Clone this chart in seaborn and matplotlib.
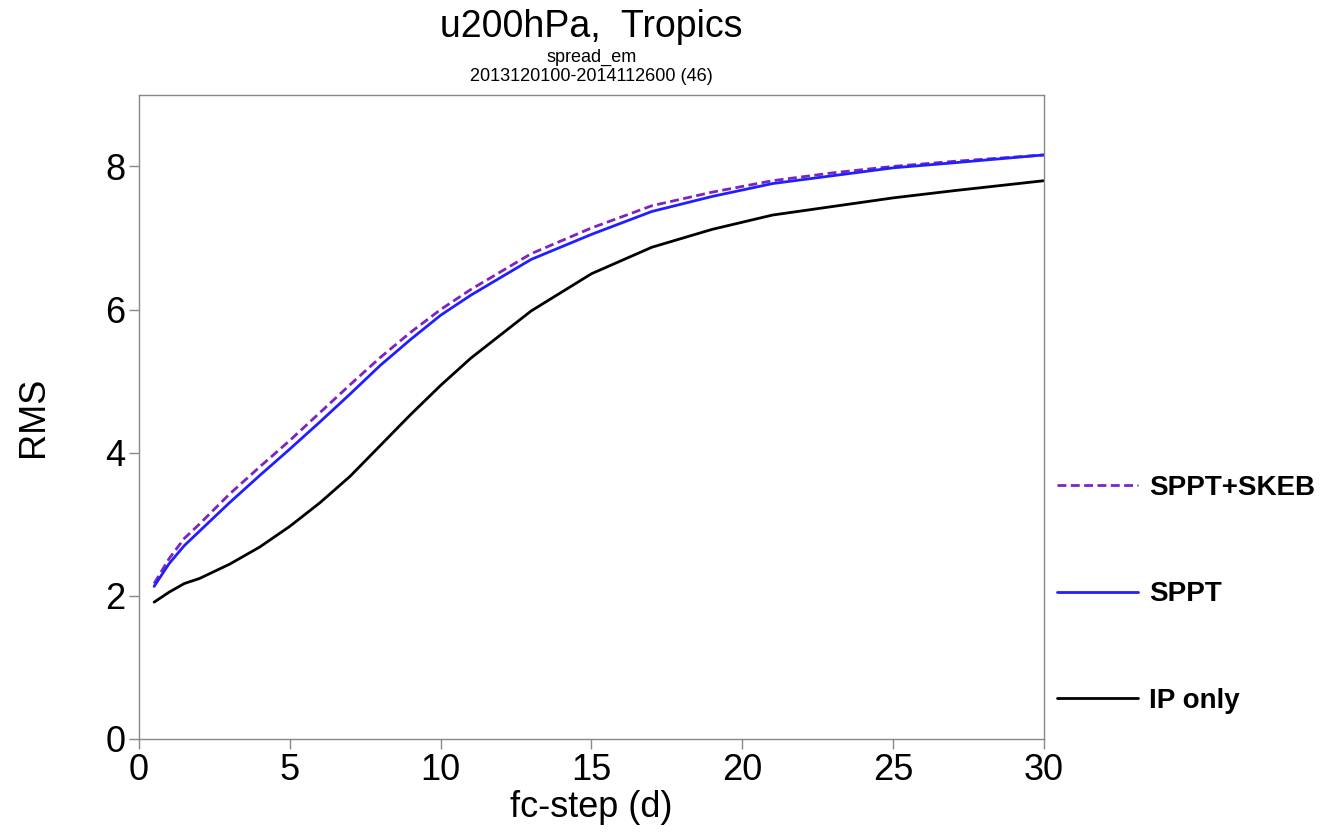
import matplotlib
matplotlib.use("Agg")
import matplotlib.pyplot as plt
import seaborn as sns
import pandas as pd

steps = [0.5, 1, 1.5, 2, 3, 4, 5, 6, 7, 8, 9, 10, 11, 13, 15, 17, 19, 21, 23, 25, 27, 30]
sppt_skeb = [2.17, 2.52, 2.80, 3.00, 3.42, 3.80, 4.17, 4.56, 4.95, 5.33, 5.68, 6.00, 6.28,
             6.78, 7.14, 7.45, 7.64, 7.80, 7.91, 8.00, 8.07, 8.16]
sppt = [2.13, 2.45, 2.70, 2.90, 3.30, 3.68, 4.05, 4.43, 4.82, 5.22, 5.58, 5.92, 6.20,
        6.70, 7.05, 7.37, 7.58, 7.76, 7.87, 7.98, 8.05, 8.16]
ip_only = [1.91, 2.05, 2.17, 2.24, 2.44, 2.68, 2.97, 3.30, 3.67, 4.10, 4.53, 4.94, 5.32,
           5.98, 6.50, 6.87, 7.12, 7.32, 7.44, 7.56, 7.66, 7.80]
labels = ["SPPT+SKEB", "SPPT", "IP only"]
colors = ["#7D22C4", "#1F1FFF", "#000000"]

sns.set_style("white")
plt.rcParams['font.family'] = ['Liberation Sans', 'DejaVu Sans']
plt.rcParams['text.color'] = 'black'
plt.rcParams['axes.labelcolor'] = 'black'

fig = plt.figure(figsize=(13.24, 8.32), dpi=100)
ax = fig.add_axes([0.105, 0.112, 0.6835, 0.774])

series = [sppt_skeb, sppt, ip_only]
for lab, vals, col in zip(labels, series, colors):
    df = pd.DataFrame({"step": steps, "rms": vals})
    ls = (0, (3.2, 1.6)) if lab == "SPPT+SKEB" else "-"
    sns.lineplot(data=df, x="step", y="rms", ax=ax, color=col, linewidth=2.0,
                 linestyle=ls, label=lab)

ax.set_xlim(0, 30)
ax.set_ylim(0, 9)
ax.set_xticks([0, 5, 10, 15, 20, 25, 30])
ax.set_yticks([0, 2, 4, 6, 8])
ax.tick_params(axis="both", direction="out", length=7, width=1, color="#888888",
               labelcolor="black", labelsize=26, pad=3, left=True, bottom=True)
for s in ax.spines.values():
    s.set_color("#888888")
    s.set_linewidth(1)
ax.set_xlabel("fc-step (d)", fontsize=26, labelpad=2)
ax.set_ylabel("RMS", fontsize=26)
ax.yaxis.set_label_coords(-0.097, 0.5)

fig.text(0.4465, 0.9675, "u200hPa,  Tropics", ha="center", va="center", fontsize=27)
fig.text(0.4465, 0.9315, "spread_em", ha="center", va="center", fontsize=13)
fig.text(0.4465, 0.9075, "2013120100-2014112600 (46)", ha="center", va="center", fontsize=13)

ax.get_legend().remove()
handles, labs = ax.get_legend_handles_labels()
leg = fig.legend(handles, labs, loc="center left", bbox_to_anchor=(0.7983, 0.2855),
                 frameon=False, prop={"weight": "bold", "size": 20}, handlelength=2.9,
                 labelspacing=2.89, handletextpad=0.43, borderaxespad=0, borderpad=0)
for h in leg.get_lines():
    h.set_linewidth(2.0)

fig.savefig("out.png", dpi=100)
